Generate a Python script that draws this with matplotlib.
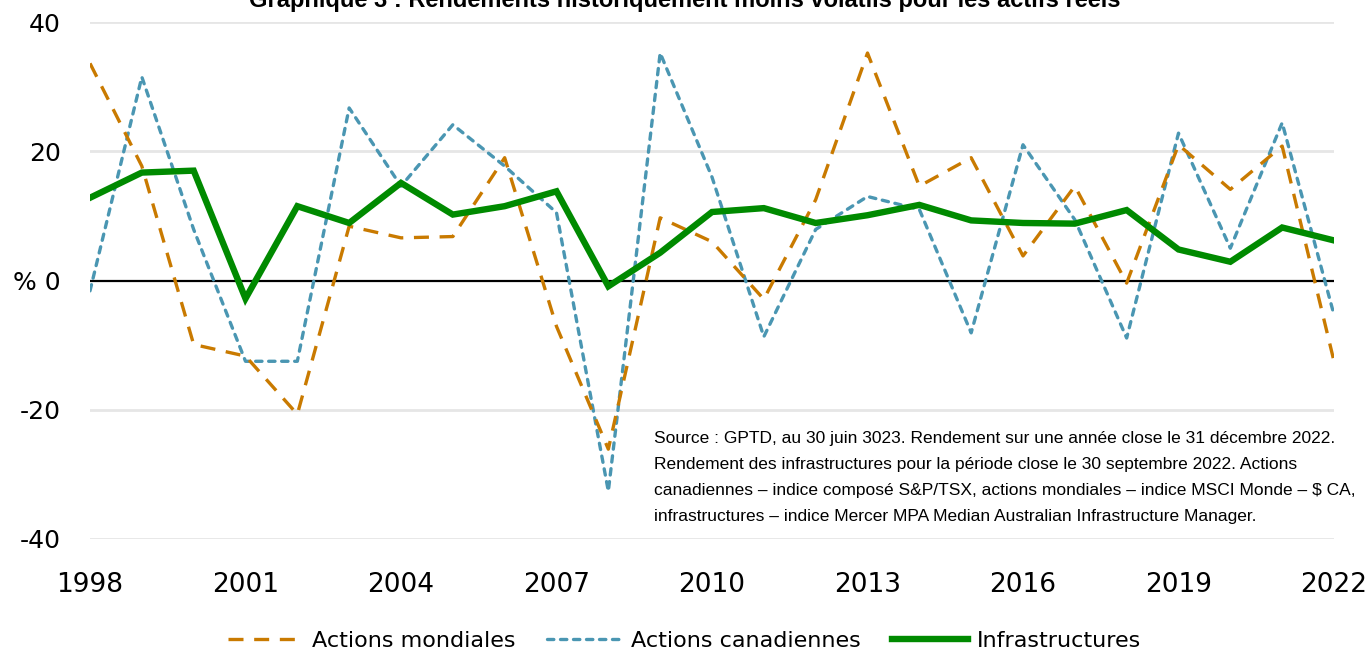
import matplotlib
matplotlib.use("Agg")
import matplotlib.pyplot as plt
import numpy as np

# annees et rendements (%)
years = list(range(1998, 2023))
mondiales = [33.6, 17.7, -9.9, -11.7, -20.7, 8.4, 6.6, 6.8, 19.0, -7.1,
             -26.1, 9.7, 6.0, -2.9, 12.5, 35.2, 14.6, 19.0, 3.8, 14.6,
             -0.4, 21.0, 14.1, 20.8, -12.5]
canadiennes = [-1.6, 31.5, 7.9, -12.5, -12.5, 26.7, 14.6, 24.1, 17.7, 10.5,
               -32.6, 35.2, 16.0, -8.7, 7.9, 13.0, 11.0, -8.1, 21.0, 9.4,
               -8.9, 22.8, 5.0, 24.4, -5.3]
infra = [12.8, 16.7, 17.0, -2.8, 11.5, 8.9, 15.1, 10.2, 11.5, 13.8,
         -0.9, 4.3, 10.6, 11.2, 8.9, 10.1, 11.7, 9.3, 8.9, 8.8,
         10.9, 4.8, 2.9, 8.2, 6.2]

xticks = [1998, 2001, 2004, 2007, 2010, 2013, 2016, 2019, 2022]
yticks = [-40, -20, 0, 20, 40]
ytick_labels = ['-40', '-20', '% 0', '20', '40']

title = "Graphique 3 : Rendements historiquement moins volatils pour les actifs réels"
note = ("Source : GPTD, au 30 juin 3023. Rendement sur une année close le 31 décembre 2022.\n"
        "Rendement des infrastructures pour la période close le 30 septembre 2022. Actions\n"
        "canadiennes – indice composé S&P/TSX, actions mondiales – indice MSCI Monde – $ CA,\n"
        "infrastructures – indice Mercer MPA Median Australian Infrastructure Manager.")

c_orange = '#C97A00'
c_blue = '#4A96B2'
c_green = '#008A00'

plt.rcParams['font.family'] = ['DejaVu Sans']

fig = plt.figure(figsize=(13.69, 6.54), dpi=100)
ax = fig.add_axes([90/1369, 1-539/654, (1334-90)/1369, (539-22)/654])

# grille
for v in [-40, -20, 20, 40]:
    ax.axhline(v, color='#E6E6E6', lw=2, zorder=0)
ax.axhline(0, color='black', lw=1.6, zorder=1)

ax.plot(years, mondiales, color=c_orange, lw=2.4, dashes=(4.5, 3.2),
        label='Actions mondiales', zorder=3)
ax.plot(years, canadiennes, color=c_blue, lw=2.4, dashes=(1.9, 2.0),
        dash_capstyle='round', label='Actions canadiennes', zorder=2)
ax.plot(years, infra, color=c_green, lw=4.6, solid_joinstyle='miter',
        label='Infrastructures', zorder=4)

ax.set_xlim(1998, 2022)
ax.set_ylim(-40, 40)
ax.set_xticks(xticks)
ax.set_xticklabels([str(x) for x in xticks], fontsize=19)
ax.set_yticks(yticks)
ax.set_yticklabels(ytick_labels, fontsize=18)
ax.tick_params(axis='x', length=0, pad=24)
ax.tick_params(axis='y', length=0, pad=21)
for s in ax.spines.values():
    s.set_visible(False)

# titre coupe en haut (comme dans l'original)
fig.text(0.5, 1-7/654, title, ha='center', va='baseline', fontsize=17,
         fontweight='bold', family=['Liberation Sans', 'DejaVu Sans'])

fig.text(654/1369, 1-431/654, note, ha='left', va='top',
         fontsize=12.5, linespacing=1.93,
         family=['Liberation Sans', 'DejaVu Sans'])

fig.legend(loc='center', bbox_to_anchor=(0.5, 1-641/654), ncol=3, frameon=False,
           fontsize=16, handlelength=3.4, columnspacing=1.4, handletextpad=0.4)

fig.savefig('out.png', dpi=100)
